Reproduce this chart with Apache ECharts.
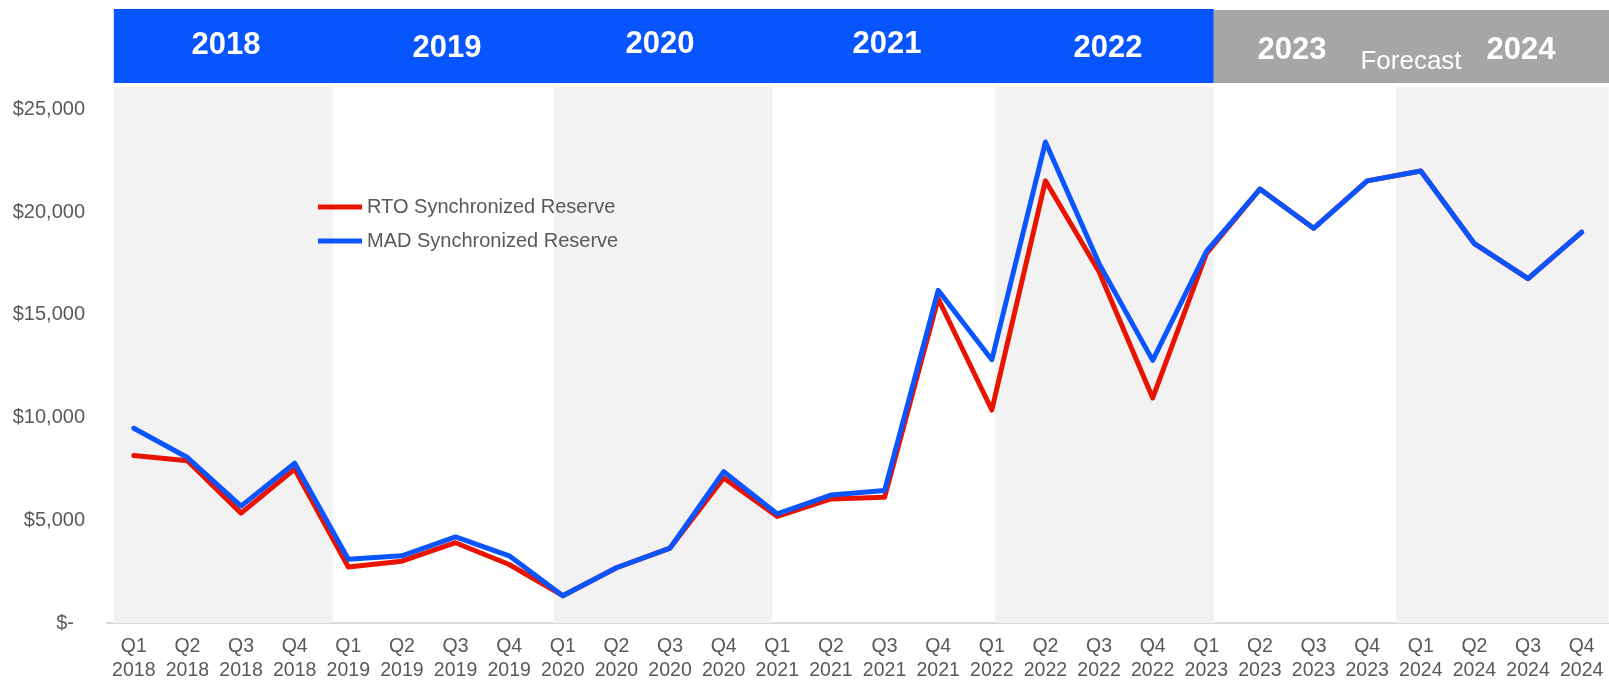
<!DOCTYPE html>
<html>
<head>
<meta charset="utf-8">
<script src="https://cdn.jsdelivr.net/npm/echarts@6/dist/echarts.min.js"></script>
<style>
html,body{margin:0;padding:0;background:#ffffff;}
#c{width:1609px;height:683px;}
</style>
</head>
<body>
<div id="c"></div>
<script>
// ---------- data ----------
const quarters = ['Q1', 'Q2', 'Q3', 'Q4'];
const years = ['2018', '2019', '2020', '2021', '2022', '2023', '2024'];
const categories = [];
years.forEach(y => quarters.forEach(q => categories.push(q + '\n' + y)));

const rtoValues = [
  8160, 7900, 5350, 7490,
  2730, 3010, 3910, 2850,
  1330, 2690, 3650, 7060,
  5190, 6040, 6120, 15800,
  10370, 21530, 17100, 10960,
  17980, 21130, 19220, 21530,
  22010, 18470, 16770, 19030
];
const madValues = [
  9480, 8060, 5690, 7780,
  3100, 3270, 4190, 3270,
  1330, 2690, 3650, 7370,
  5310, 6230, 6450, 16200,
  12820, 23420, 17500, 12790,
  18090, 21130, 19220, 21530,
  22010, 18470, 16770, 19030
];
const seriesNames = ['RTO Synchronized Reserve', 'MAD Synchronized Reserve'];
const yTicks = [0, 5000, 10000, 15000, 20000, 25000];
const headerYears = ['2018', '2019', '2020', '2021', '2022', '2023', '2024'];
const forecastLabel = 'Forecast';
// year band edges, in quarter-index units of the category axis
const bandEdges = [-0.373, 3.711, 7.833, 11.91, 16.06, 20.14, 23.54, 27.5];

// ---------- styles / layout ----------
const FONT = '"Liberation Sans", Arial, Helvetica, sans-serif';
const TXT = '#595959';
const RED = '#e81400';
const BLUE = '#0a55ff';
const HEAD_BLUE = '#0755ff';
const HEAD_GRAY = '#a6a6a6';
const BAND = '#f2f2f2';
// header label positions [x, y] (pixels)
const yearLabelPos = [[226, 45], [447, 48], [660, 44], [887, 44], [1108, 48], [1292, 50], [1521, 50]];
const forecastPos = [1411, 62];

const chart = echarts.init(document.getElementById('c'), null, {renderer: 'canvas'});

const shaded = [];
for (let i = 0; i < bandEdges.length - 1; i += 2) {
  shaded.push([{xAxis: bandEdges[i]}, {xAxis: bandEdges[i + 1]}]);
}

const option = {
  animation: false,
  backgroundColor: '#ffffff',
  textStyle: {fontFamily: FONT},
  grid: {left: 107, right: 0.5, top: 87, bottom: 56.5, containLabel: false},
  legend: {
    orient: 'vertical',
    left: 318,
    top: 197,
    padding: 0,
    itemWidth: 44,
    itemHeight: 18,
    itemGap: 14,
    icon: 'path://M0,0 L44,0 L44,5 L0,5 Z',
    textStyle: {color: TXT, fontSize: 20, fontFamily: FONT},
    data: [seriesNames[0], seriesNames[1]]
  },
  xAxis: [
    {
      type: 'category',
      data: categories,
      boundaryGap: true,
      axisLine: {show: true, lineStyle: {color: '#d9d9d9', width: 2}},
      axisTick: {show: false},
      splitLine: {show: false},
      axisLabel: {
        color: TXT, fontSize: 19.5, lineHeight: 24, margin: 12,
        fontFamily: FONT, interval: 0
      }
    },
    {
      type: 'value',
      min: -0.5,
      max: 27.5,
      show: false
    }
  ],
  yAxis: {
    type: 'value',
    min: 0,
    max: 26100,
    interval: 5000,
    axisLine: {show: false},
    axisTick: {show: false},
    splitLine: {show: false},
    axisLabel: {
      showMaxLabel: false,
      color: TXT, fontSize: 20, margin: 22, fontFamily: FONT,
      formatter: function (v) {
        if (yTicks.indexOf(v) < 0) return '';
        if (v === 0) return '{z|$-}';
        return '$' + v.toLocaleString('en-US');
      },
      rich: {z: {color: TXT, fontSize: 20, fontFamily: FONT, padding: [0, 11, 0, 0]}}
    }
  },
  series: [
    {
      name: '_bands',
      type: 'line',
      xAxisIndex: 1,
      yAxisIndex: 0,
      data: [],
      silent: true,
      z: 0,
      markArea: {
        silent: true,
        itemStyle: {color: BAND},
        data: shaded
      }
    },
    {
      name: seriesNames[0],
      type: 'line',
      data: rtoValues,
      symbol: 'none',
      z: 3,
      itemStyle: {color: RED},
      lineStyle: {color: RED, width: 5, join: 'round', cap: 'round'}
    },
    {
      name: seriesNames[1],
      type: 'line',
      data: madValues,
      symbol: 'none',
      z: 4,
      itemStyle: {color: BLUE},
      lineStyle: {color: BLUE, width: 5, join: 'round', cap: 'round'}
    }
  ]
};
chart.setOption(option);

// ---------- header band (derived from band edges) ----------
const px = v => chart.convertToPixel({xAxisIndex: 1}, v);
const xStart = px(bandEdges[0]);
const xForecast = px(bandEdges[5]);
const xEnd = 1609;
const graphics = [
  {type: 'rect', shape: {x: xStart, y: 9, width: xForecast - xStart, height: 74}, style: {fill: HEAD_BLUE}, z: 10},
  {type: 'rect', shape: {x: xForecast, y: 10, width: xEnd - xForecast, height: 73}, style: {fill: HEAD_GRAY}, z: 10}
];
headerYears.forEach((y, i) => {
  graphics.push({
    type: 'text', z: 11,
    x: yearLabelPos[i][0], y: yearLabelPos[i][1],
    style: {text: y, fill: '#ffffff', font: 'bold 31px ' + FONT, textAlign: 'center', textVerticalAlign: 'middle'}
  });
});
graphics.push({
  type: 'text', z: 11,
  x: forecastPos[0], y: forecastPos[1],
  style: {text: forecastLabel, fill: '#ffffff', font: '26px ' + FONT, textAlign: 'center', textVerticalAlign: 'middle'}
});
chart.setOption({graphic: graphics});
</script>
</body>
</html>
